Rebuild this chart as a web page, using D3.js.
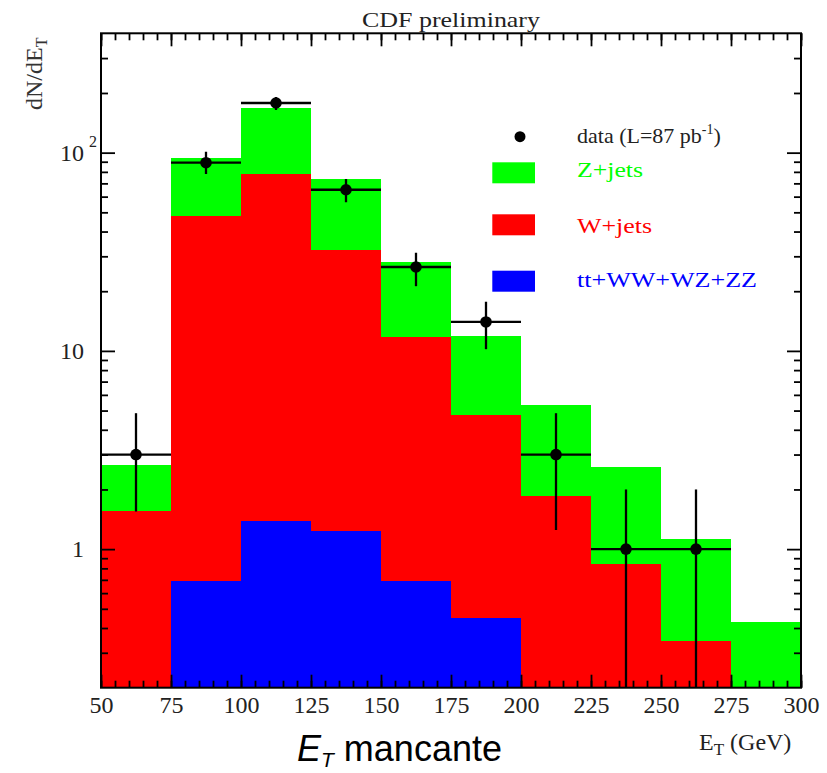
<!DOCTYPE html>
<html>
<head>
<meta charset="utf-8">
<script src="https://cdn.jsdelivr.net/npm/d3@7"></script>
<style>
  html, body { margin: 0; padding: 0; background: #fff; }
  svg { display: block; }
  .serif { font-family: "Liberation Serif", "DejaVu Serif", serif; }
</style>
</head>
<body>
<svg id="chart" width="827" height="773"></svg>
<script>
// Missing transverse energy, binned in 25 GeV steps
const binLow = [50, 75, 100, 125, 150, 175, 200, 225, 250, 275];
const binWidth = 25;

// Stacked MC contributions per bin (dN/dE_T)
const dibosonTop = [0, 0.69, 1.38, 1.23, 0.69, 0.45, 0, 0, 0, 0];           // tt+WW+WZ+ZZ
const wJets      = [1.55, 47.4, 77.1, 30.9, 11.0, 4.32, 1.85, 0.84, 0.345, 0];
const zJets      = [1.10, 46.0, 89.8, 41.7, 16.3, 7.08, 3.47, 1.75, 0.78, 0.43];

// Data points with asymmetric error bars
const dataCenter = [62.5, 87.5, 112.5, 137.5, 162.5, 187.5, 212.5, 237.5, 262.5];
const dataValue  = [3, 89, 178, 65, 26.5, 14, 3, 1, 1];
const dataErrUp  = [1.85, 12, 13, 8.7, 4.8, 3.7, 1.85, 1, 1];
const dataErrDn  = [1.45, 11, 14, 8.8, 5.3, 3.8, 1.75, 1, 1];

// Axis ticks
const xMajor = [50, 75, 100, 125, 150, 175, 200, 225, 250, 275, 300];
const xMinor = d3.range(50, 301, 5);
const yMajor = [1, 10, 100];
const yMinor = [0.3, 0.4, 0.5, 0.6, 0.7, 0.8, 0.9, 2, 3, 4, 5, 6, 7, 8, 9,
                20, 30, 40, 50, 60, 70, 80, 90, 200, 300];

const seriesKeys   = ["other", "w", "z"];
const seriesColors = { other: "#0000ff", w: "#ff0000", z: "#00ff00" };

const svg = d3.select("#chart");
const L = 101, R = 801, T = 33.3, B = 687.7;
const yMin = 0.2, yMax = 400;

const x = d3.scaleLinear().domain([50, 300]).range([L, R]);
const y = d3.scaleLog().domain([yMin, yMax]).range([B, T]);
const yc = v => y(Math.max(v, yMin));

svg.append("defs").append("clipPath").attr("id", "plotClip")
  .append("rect").attr("x", L).attr("y", T).attr("width", R - L).attr("height", B - T);

// Stacked histogram
const rows = binLow.map((lo, i) => ({ lo, other: dibosonTop[i], w: wJets[i], z: zJets[i] }));
const stacked = d3.stack().keys(seriesKeys)(rows);

const hist = svg.append("g").attr("clip-path", "url(#plotClip)").attr("shape-rendering", "crispEdges");
stacked.forEach(layer => {
  hist.append("g").attr("fill", seriesColors[layer.key])
    .selectAll("rect").data(layer).join("rect")
      .attr("x", d => x(d.data.lo))
      .attr("width", d => x(d.data.lo + binWidth) - x(d.data.lo))
      .attr("y", d => yc(d[1]))
      .attr("height", d => Math.max(0, yc(d[0]) - yc(d[1])));
});

// Data with error bars
const pts = dataCenter.map((c, i) => ({ c, v: dataValue[i], up: dataErrUp[i], dn: dataErrDn[i] }));
const dg = svg.append("g").attr("clip-path", "url(#plotClip)");
dg.selectAll("line.h").data(pts).join("line").attr("class", "h")
  .attr("x1", d => x(d.c - binWidth / 2)).attr("x2", d => x(d.c + binWidth / 2))
  .attr("y1", d => y(d.v)).attr("y2", d => y(d.v))
  .attr("stroke", "#000").attr("stroke-width", 2.3);
dg.selectAll("line.v").data(pts).join("line").attr("class", "v")
  .attr("x1", d => x(d.c)).attr("x2", d => x(d.c))
  .attr("y1", d => y(d.v + d.up)).attr("y2", d => yc(d.v - d.dn))
  .attr("stroke", "#000").attr("stroke-width", 2.3);
dg.selectAll("circle").data(pts).join("circle")
  .attr("cx", d => x(d.c)).attr("cy", d => y(d.v)).attr("r", 5.8).attr("fill", "#000");

// Axes: ticks pointing inward on all four sides
function styleAxis(g) {
  g.select(".domain").remove();
  g.selectAll(".tick line").attr("stroke", "#000").attr("stroke-width", 1.8);
  g.selectAll("text").attr("class", "serif").attr("font-size", 24).attr("fill", "#222");
}
svg.append("g").attr("transform", `translate(0,${B})`)
  .call(d3.axisBottom(x).tickValues(xMinor).tickSize(-7).tickFormat(""))
  .call(styleAxis);
svg.append("g").attr("transform", `translate(0,${B})`)
  .call(d3.axisBottom(x).tickValues(xMajor).tickSize(-13).tickPadding(8).tickFormat(d3.format("d")))
  .call(styleAxis);
svg.append("g").attr("transform", `translate(0,${T})`)
  .call(d3.axisTop(x).tickValues(xMinor).tickSize(-7).tickFormat(""))
  .call(styleAxis);
svg.append("g").attr("transform", `translate(0,${T})`)
  .call(d3.axisTop(x).tickValues(xMajor).tickSize(-13).tickFormat(""))
  .call(styleAxis);

svg.append("g").attr("transform", `translate(${L},0)`)
  .call(d3.axisLeft(y).tickValues(yMinor).tickSize(-7).tickFormat(""))
  .call(styleAxis);
const yAxisL = svg.append("g").attr("transform", `translate(${L},0)`)
  .call(d3.axisLeft(y).tickValues(yMajor).tickSize(-14).tickPadding(17)
    .tickFormat(d => d === 100 ? "10" : d3.format("d")(d)))
  .call(styleAxis);
yAxisL.selectAll(".tick").filter(d => d === 100)
  .append("text").attr("class", "serif").attr("x", -4).attr("y", -6)
  .attr("text-anchor", "end").attr("font-size", 16).attr("fill", "#222").text("2");

svg.append("g").attr("transform", `translate(${R},0)`)
  .call(d3.axisRight(y).tickValues(yMinor).tickSize(-7).tickFormat(""))
  .call(styleAxis);
svg.append("g").attr("transform", `translate(${R},0)`)
  .call(d3.axisRight(y).tickValues(yMajor).tickSize(-14).tickFormat(""))
  .call(styleAxis);

// Frame
svg.append("rect").attr("x", L).attr("y", T).attr("width", R - L).attr("height", B - T)
  .attr("fill", "none").attr("stroke", "#000").attr("stroke-width", 2);

// Title
svg.append("text").attr("class", "serif").attr("x", 362).attr("y", 27)
  .attr("font-size", 21).attr("fill", "#222")
  .attr("textLength", 178).attr("lengthAdjust", "spacingAndGlyphs")
  .text("CDF preliminary");

// Y axis title
const yt = svg.append("text").attr("class", "serif")
  .attr("transform", "translate(42,110) rotate(-90)")
  .attr("font-size", 24).attr("fill", "#333");
yt.append("tspan").text("dN/dE");
yt.append("tspan").attr("font-size", 16).attr("dy", 5).text("T");

// X axis title
const xt = svg.append("text").attr("class", "serif").attr("x", 699).attr("y", 750)
  .attr("font-size", 24).attr("fill", "#222");
xt.append("tspan").text("E");
xt.append("tspan").attr("font-size", 17).attr("dy", 5).text("T");
xt.append("tspan").attr("dy", -5).text(" (GeV)");

// Caption below the axis
const cap = svg.append("text").attr("x", 297).attr("y", 761)
  .attr("font-family", "'Liberation Sans', Arial, sans-serif").attr("font-size", 36).attr("fill", "#000");
cap.append("tspan").attr("font-style", "italic").text("E");
cap.append("tspan").attr("font-style", "italic").attr("font-size", 21).attr("dy", 6).text("T");
cap.append("tspan").attr("dy", -6).text(" mancante");

// Legend
const legend = svg.append("g");
legend.append("circle").attr("cx", 520).attr("cy", 136.7).attr("r", 5.5).attr("fill", "#000");
const dt = legend.append("text").attr("class", "serif").attr("x", 577).attr("y", 143)
  .attr("font-size", 22).attr("fill", "#222");
dt.append("tspan").text("data (L=87 pb");
dt.append("tspan").attr("font-size", 14).attr("dy", -9).text("-1");
dt.append("tspan").attr("dy", 9).text(")");

const legendItems = [
  { key: "z", label: "Z+jets", y0: 162.3, base: 177, len: 66 },
  { key: "w", label: "W+jets", y0: 214.3, base: 233, len: 75 },
  { key: "other", label: "tt+WW+WZ+ZZ", y0: 270.7, base: 287, len: 180 }
];
legendItems.forEach(it => {
  legend.append("rect").attr("x", 492.3).attr("y", it.y0).attr("width", 42.7).attr("height", 21)
    .attr("fill", seriesColors[it.key]);
  legend.append("text").attr("class", "serif").attr("x", 577).attr("y", it.base)
    .attr("font-size", 22).attr("fill", seriesColors[it.key])
    .attr("textLength", it.len).attr("lengthAdjust", "spacingAndGlyphs")
    .text(it.label);
});
</script>
</body>
</html>
